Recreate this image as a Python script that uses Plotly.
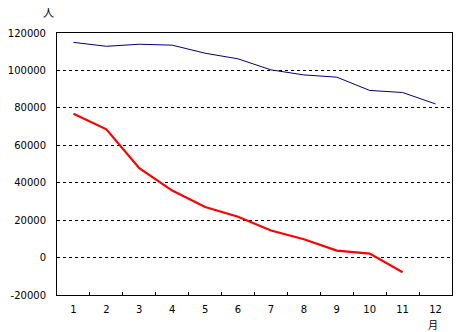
import plotly.graph_objects as go

months = ["1", "2", "3", "4", "5", "6", "7", "8", "9", "10", "11", "12"]
blue_values = [115000, 112900, 114000, 113500, 109200, 106200, 100300, 97600, 96400, 89300, 88200, 82100]
red_months = ["1", "2", "3", "4", "5", "6", "7", "8", "9", "10", "11"]
red_values = [76800, 68500, 47800, 35800, 27000, 21800, 14500, 9800, 3700, 2100, -7800]
y_ticks = [-20000, 0, 20000, 40000, 60000, 80000, 100000, 120000]

font_family = "DejaVu Sans, Arial, sans-serif"

fig = go.Figure()
fig.add_trace(go.Scatter(x=months, y=blue_values, mode="lines",
                         line=dict(color="#000080", width=1), showlegend=False))
fig.add_trace(go.Scatter(x=red_months, y=red_values, mode="lines",
                         line=dict(color="#FF0000", width=2.2), showlegend=False))

fig.update_layout(
    width=461, height=332,
    margin=dict(l=51, r=8, t=33, b=37),
    paper_bgcolor="white", plot_bgcolor="white",
    font=dict(family=font_family, size=10, color="black"),
    xaxis=dict(type="category", range=[-0.5, 11.5], showgrid=False,
               showline=True, linecolor="black", linewidth=1, mirror=True,
               ticks="inside", ticklen=3, tickcolor="black", tickson="boundaries",
               ticklabelstandoff=5,
               tickfont=dict(size=10), zeroline=False, fixedrange=True),
    yaxis=dict(range=[-20000, 120000], tickvals=y_ticks,
               ticktext=[str(v) for v in y_ticks],
               showgrid=True, gridcolor="black", griddash="3px,3px", gridwidth=1,
               showline=True, linecolor="black", linewidth=1, mirror=True,
               ticks="", ticklabelstandoff=8,
               zeroline=False, tickfont=dict(size=10), fixedrange=True),
    annotations=[
        dict(text="人", xref="paper", yref="paper", x=-0.022, y=1.0,
             xanchor="center", yanchor="middle", yshift=21,
             showarrow=False, font=dict(size=11, family="Noto Sans CJK JP")),
        dict(text="月", xref="paper", yref="paper", x=0.952, y=0,
             xanchor="center", yanchor="middle", yshift=-29,
             showarrow=False, font=dict(size=10, family="Noto Sans CJK JP")),
    ],
)

fig.write_html("out.html", config={"displayModeBar": False},
               post_script="document.body.style.margin='0';")
